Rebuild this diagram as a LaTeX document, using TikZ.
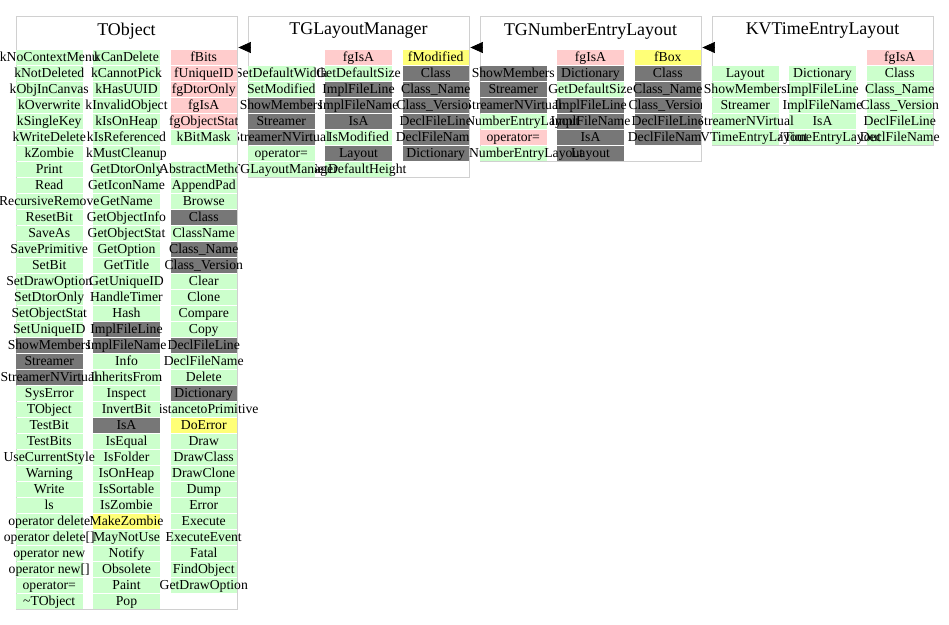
\documentclass[tikz,border=0pt]{standalone}
\usepackage{fontspec}
\setmainfont{Liberation Serif}
\usetikzlibrary{arrows.meta}
\definecolor{cg}{HTML}{CCFFCC}
\definecolor{cp}{HTML}{FFCCCC}
\definecolor{cd}{HTML}{777777}
\definecolor{cy}{HTML}{FFFF77}
\definecolor{boxgray}{HTML}{D0D0D0}
\tikzset{
  classbox/.style={draw=boxgray, line width=1.4pt, fill=white, anchor=north west, inner sep=0, minimum width=221pt},
  classtitle/.style={font=\fontsize{17.9}{20}\selectfont, inner sep=0},
  cell/.style={minimum width=66.5pt, minimum height=15pt, inner sep=0, draw=none},
  celltext/.style={font=\fontsize{13.7}{15}\selectfont, inner sep=0, text height=10.5pt, text depth=1.5pt},
  inh/.style={-{Triangle[length=12.5pt,width=11pt]}, line width=0.6pt, black}
}
\def\celllist{%
1/1/1/g/kNoContextMenu, 1/1/2/g/kNotDeleted, 1/1/3/g/kObjInCanvas, 1/1/4/g/kOverwrite,
1/1/5/g/kSingleKey, 1/1/6/g/kWriteDelete, 1/1/7/g/kZombie, 1/1/8/g/Print, 1/1/9/g/Read,
1/1/10/g/RecursiveRemove, 1/1/11/g/ResetBit, 1/1/12/g/SaveAs, 1/1/13/g/SavePrimitive,
1/1/14/g/SetBit, 1/1/15/g/SetDrawOption, 1/1/16/g/SetDtorOnly, 1/1/17/g/SetObjectStat,
1/1/18/g/SetUniqueID, 1/1/19/d/ShowMembers, 1/1/20/d/Streamer, 1/1/21/d/StreamerNVirtual,
1/1/22/g/SysError, 1/1/23/g/TObject, 1/1/24/g/TestBit, 1/1/25/g/TestBits,
1/1/26/g/UseCurrentStyle, 1/1/27/g/Warning, 1/1/28/g/Write, 1/1/29/g/ls,
1/1/30/g/operator delete, 1/1/31/g/{operator delete[]}, 1/1/32/g/operator new,
1/1/33/g/{operator new[]}, 1/1/34/g/operator=, 1/1/35/g/\textasciitilde TObject,
1/2/1/g/kCanDelete, 1/2/2/g/kCannotPick, 1/2/3/g/kHasUUID, 1/2/4/g/kInvalidObject,
1/2/5/g/kIsOnHeap, 1/2/6/g/kIsReferenced, 1/2/7/g/kMustCleanup, 1/2/8/g/GetDtorOnly,
1/2/9/g/GetIconName, 1/2/10/g/GetName, 1/2/11/g/GetObjectInfo, 1/2/12/g/GetObjectStat,
1/2/13/g/GetOption, 1/2/14/g/GetTitle, 1/2/15/g/GetUniqueID, 1/2/16/g/HandleTimer,
1/2/17/g/Hash, 1/2/18/d/ImplFileLine, 1/2/19/d/ImplFileName, 1/2/20/g/Info,
1/2/21/g/InheritsFrom, 1/2/22/g/Inspect, 1/2/23/g/InvertBit, 1/2/24/d/IsA,
1/2/25/g/IsEqual, 1/2/26/g/IsFolder, 1/2/27/g/IsOnHeap, 1/2/28/g/IsSortable,
1/2/29/g/IsZombie, 1/2/30/y/MakeZombie, 1/2/31/g/MayNotUse, 1/2/32/g/Notify,
1/2/33/g/Obsolete, 1/2/34/g/Paint, 1/2/35/g/Pop,
1/3/1/p/fBits, 1/3/2/p/fUniqueID, 1/3/3/p/fgDtorOnly, 1/3/4/p/fgIsA, 1/3/5/p/fgObjectStat,
1/3/6/g/kBitMask, 1/3/8/g/AbstractMethod, 1/3/9/g/AppendPad, 1/3/10/g/Browse,
1/3/11/d/Class, 1/3/12/g/ClassName, 1/3/13/d/Class\_Name, 1/3/14/d/Class\_Version,
1/3/15/g/Clear, 1/3/16/g/Clone, 1/3/17/g/Compare, 1/3/18/g/Copy, 1/3/19/d/DeclFileLine,
1/3/20/g/DeclFileName, 1/3/21/g/Delete, 1/3/22/d/Dictionary, 1/3/23/g/DistancetoPrimitive,
1/3/24/y/DoError, 1/3/25/g/Draw, 1/3/26/g/DrawClass, 1/3/27/g/DrawClone, 1/3/28/g/Dump,
1/3/29/g/Error, 1/3/30/g/Execute, 1/3/31/g/ExecuteEvent, 1/3/32/g/Fatal,
1/3/33/g/FindObject, 1/3/34/g/GetDrawOption,
2/1/2/g/SetDefaultWidth, 2/1/3/g/SetModified, 2/1/4/d/ShowMembers, 2/1/5/d/Streamer,
2/1/6/d/StreamerNVirtual, 2/1/7/g/operator=, 2/1/8/g/\textasciitilde TGLayoutManager,
2/2/1/p/fgIsA, 2/2/2/g/GetDefaultSize, 2/2/3/d/ImplFileLine, 2/2/4/d/ImplFileName,
2/2/5/d/IsA, 2/2/6/g/IsModified, 2/2/7/d/Layout, 2/2/8/g/SetDefaultHeight,
2/3/1/y/fModified, 2/3/2/d/Class, 2/3/3/d/Class\_Name, 2/3/4/d/Class\_Version,
2/3/5/d/DeclFileLine, 2/3/6/d/DeclFileName, 2/3/7/d/Dictionary,
3/1/2/d/ShowMembers, 3/1/3/d/Streamer, 3/1/4/d/StreamerNVirtual,
3/1/5/g/TGNumberEntryLayout, 3/1/6/p/operator=, 3/1/7/g/\textasciitilde TGNumberEntryLayout,
3/2/1/p/fgIsA, 3/2/2/d/Dictionary, 3/2/3/g/GetDefaultSize, 3/2/4/d/ImplFileLine,
3/2/5/d/ImplFileName, 3/2/6/d/IsA, 3/2/7/d/Layout,
3/3/1/y/fBox, 3/3/2/d/Class, 3/3/3/d/Class\_Name, 3/3/4/d/Class\_Version,
3/3/5/d/DeclFileLine, 3/3/6/d/DeclFileName,
4/1/2/g/Layout, 4/1/3/g/ShowMembers, 4/1/4/g/Streamer, 4/1/5/g/StreamerNVirtual,
4/1/6/g/\textasciitilde KVTimeEntryLayout,
4/2/2/g/Dictionary, 4/2/3/g/ImplFileLine, 4/2/4/g/ImplFileName, 4/2/5/g/IsA,
4/2/6/g/KVTimeEntryLayout,
4/3/1/p/fgIsA, 4/3/2/g/Class, 4/3/3/g/Class\_Name, 4/3/4/g/Class\_Version,
4/3/5/g/DeclFileLine, 4/3/6/g/DeclFileName}
% draws the cells of one class box, third column first, each cell with its text
\newcommand\drawclasscells[1]{%
  \foreach \cc in {3,2,1}{%
    \foreach \b/\c/\r/\k/\t in \celllist {%
      \ifnum\b=#1\relax\ifnum\c=\cc\relax
        \node[cell, fill=c\k] (c\b-\c-\r) at ({16+232*(\b-1)+33.25+77.25*(\c-1)}, {57+16*(\r-1)}) {};
        \node[celltext] (t\b-\c-\r) at (c\b-\c-\r.center) {\t};
      \fi\fi
    }%
  }%
}
\begin{document}
\begin{tikzpicture}[x=1pt, y=-1pt]
\useasboundingbox (0,0) rectangle (949,624);
% TObject
\node[classbox, minimum height=593pt] (tobject) at (16,16) {};
\node[classtitle] (tobjectt) at (126.5,31) {TObject};
\drawclasscells{1}
% TGLayoutManager
\begin{scope}
  \clip (238,0) rectangle (469.8,178);
  \fill[white] (238,0) rectangle (469.8,178);
  \node[classbox, minimum height=161pt] (tglm) at (248,16) {};
  \node[classtitle] (tglmt) at (358.5,31) {TGLayoutManager};
  \drawclasscells{2}
\end{scope}
% TGNumberEntryLayout
\begin{scope}
  \clip (469.8,0) rectangle (701.8,162);
  \fill[white] (469.8,0) rectangle (701.8,162);
  \node[classbox, minimum height=145pt] (tgnel) at (480,16) {};
  \node[classtitle] (tgnelt) at (590.5,31) {TGNumberEntryLayout};
  \drawclasscells{3}
\end{scope}
% KVTimeEntryLayout
\begin{scope}
  \clip (701.8,0) rectangle (949,146);
  \fill[white] (701.8,0) rectangle (949,146);
  \node[classbox, minimum height=129pt] (kvtel) at (712,16) {};
  \node[classtitle] (kvtelt) at (822.5,31) {KVTimeEntryLayout};
  \drawclasscells{4}
\end{scope}
% inheritance arrows
\coordinate (arrowrow) at (0,47.5);
\draw[inh] (tglm.west |- arrowrow) -- (tobject.east |- arrowrow);
\draw[inh] (tgnel.west |- arrowrow) -- (tglm.east |- arrowrow);
\draw[inh] (kvtel.west |- arrowrow) -- (tgnel.east |- arrowrow);
\end{tikzpicture}
\end{document}
